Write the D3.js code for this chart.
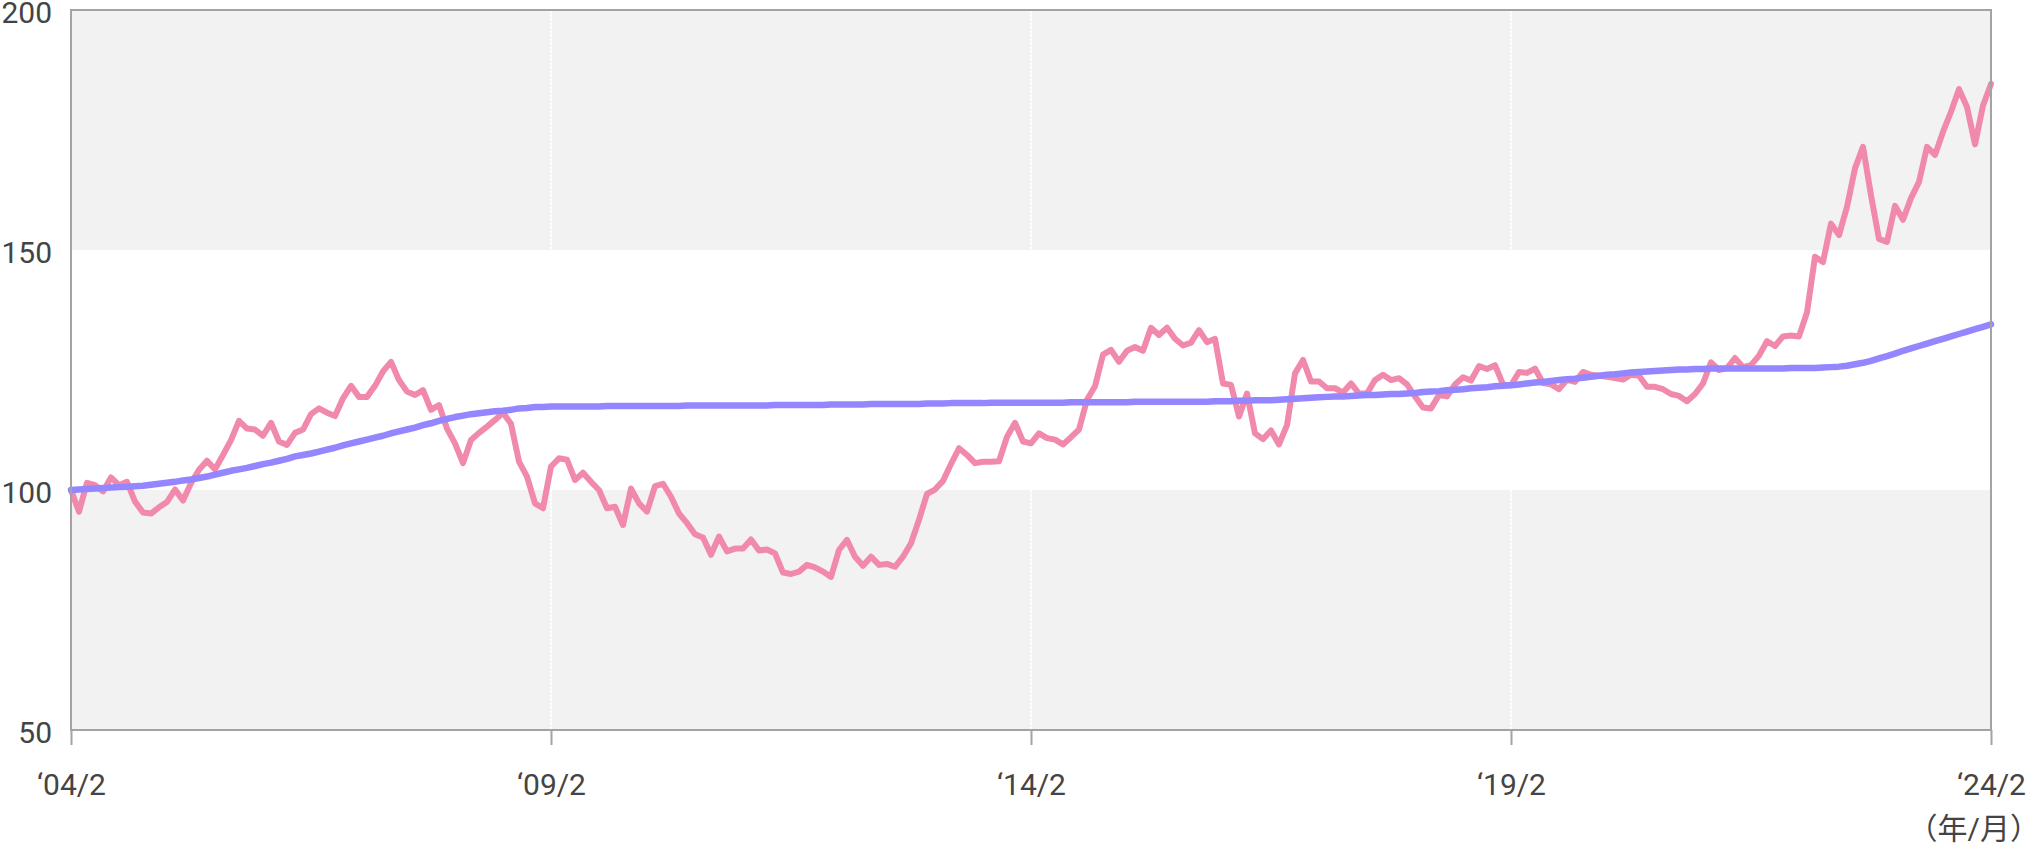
<!DOCTYPE html>
<html><head><meta charset="utf-8">
<script src="https://cdn.jsdelivr.net/npm/d3@7/dist/d3.min.js"></script>
<style>
html,body{margin:0;padding:0;background:#fff;}
svg{display:block;}
text{font-family:Roboto,"Noto Sans CJK JP",sans-serif;}
</style></head>
<body><svg id="c" width="2040" height="852"></svg>
<script>
// monthly, 2004/2 .. 2024/2 (241 points)
const tickIndex = [0, 60, 120, 180, 240];
const tickLabels = ["\u201804/2", "\u201809/2", "\u201814/2", "\u201819/2", "\u201824/2"];
const yTicks = [50, 100, 150, 200];
const unitLabel = "（年/月）";

const seriesPink = [
100.0,95.5,101.5,101.0,99.7,102.6,101.0,101.7,97.6,95.3,95.1,96.4,97.5,100.1,97.8,
101.4,104.2,106.1,104.3,107.3,110.4,114.4,112.8,112.6,111.3,114.0,110.1,109.4,111.9,112.6,
115.8,117.0,116.1,115.4,119.1,121.7,119.4,119.4,121.7,124.7,126.7,122.9,120.5,119.8,120.8,
116.7,117.7,112.8,109.7,105.6,110.4,111.9,113.2,114.6,116.1,113.8,105.9,102.8,97.2,96.2,
104.9,106.6,106.3,102.1,103.6,101.7,100.0,96.2,96.5,92.7,100.3,97.2,95.5,100.8,101.3,
98.6,95.1,93.1,90.8,90.1,86.5,90.3,87.2,87.8,87.8,89.7,87.4,87.6,86.8,82.8,
82.5,83.0,84.4,83.9,83.0,81.9,87.5,89.6,86.1,84.2,86.1,84.4,84.6,84.0,86.1,
88.9,93.8,99.2,100.1,101.9,105.4,108.7,107.3,105.6,105.9,105.9,106.0,111.1,114.0,110.1,
109.7,111.8,110.8,110.5,109.5,111.0,112.6,118.8,121.6,128.2,129.2,126.7,129.0,129.8,129.0,
133.8,132.3,133.8,131.5,130.1,130.7,133.3,130.8,131.5,122.2,121.9,115.3,120.1,111.8,110.6,
112.4,109.5,113.5,124.3,127.1,122.6,122.6,121.2,121.2,120.3,122.2,120.1,120.1,122.9,124.0,
122.9,123.3,122.0,119.5,117.2,117.0,119.8,119.5,122.0,123.5,122.8,125.8,125.2,126.0,122.0,
121.8,124.6,124.4,125.3,122.3,122.0,121.0,123.0,122.5,124.6,124.0,123.8,123.6,123.3,123.0,
124.0,123.8,121.5,121.5,121.0,120.0,119.6,118.5,120.0,122.2,126.6,125.0,125.4,127.5,125.6,
126.0,128.0,131.0,130.0,132.0,132.2,132.0,137.0,148.6,147.5,155.5,153.1,159.0,167.0,171.5,
161.4,152.3,151.7,159.2,156.3,160.8,164.2,171.5,169.8,174.6,178.8,183.5,179.8,172.0,180.1,184.6
];

const seriesPurple = [
100.0,100.1,100.2,100.3,100.4,100.5,100.6,100.7,100.8,100.9,101.1,101.3,101.5,101.7,102.0,
102.2,102.5,102.8,103.2,103.6,104.0,104.3,104.6,105.0,105.4,105.7,106.1,106.5,107.0,107.3,
107.6,108.0,108.4,108.8,109.3,109.7,110.1,110.5,110.9,111.3,111.8,112.2,112.6,113.0,113.5,
113.9,114.4,114.8,115.2,115.5,115.8,116.0,116.2,116.4,116.5,116.7,117.0,117.1,117.3,117.3,
117.4,117.4,117.4,117.4,117.4,117.4,117.4,117.5,117.5,117.5,117.5,117.5,117.5,117.5,117.5,
117.5,117.5,117.6,117.6,117.6,117.6,117.6,117.6,117.6,117.6,117.6,117.6,117.6,117.7,117.7,
117.7,117.7,117.7,117.7,117.7,117.8,117.8,117.8,117.8,117.8,117.9,117.9,117.9,117.9,117.9,
117.9,117.9,118.0,118.0,118.0,118.1,118.1,118.1,118.1,118.1,118.2,118.2,118.2,118.2,118.2,
118.2,118.2,118.2,118.2,118.2,118.3,118.3,118.3,118.3,118.3,118.3,118.3,118.3,118.4,118.4,
118.4,118.4,118.4,118.4,118.4,118.4,118.4,118.4,118.5,118.5,118.5,118.6,118.6,118.7,118.7,
118.7,118.8,118.9,119.0,119.1,119.2,119.3,119.4,119.5,119.5,119.6,119.7,119.8,119.8,119.9,
120.0,120.0,120.1,120.2,120.4,120.5,120.6,120.8,120.9,121.0,121.2,121.3,121.4,121.6,121.7,
121.8,122.0,122.2,122.4,122.5,122.7,122.9,123.1,123.2,123.4,123.6,123.8,124.0,124.1,124.3,
124.5,124.6,124.7,124.8,124.9,125.0,125.1,125.1,125.2,125.2,125.3,125.3,125.3,125.3,125.3,
125.3,125.3,125.3,125.3,125.3,125.4,125.4,125.4,125.4,125.5,125.6,125.7,125.9,126.2,126.5,
126.9,127.4,127.9,128.4,129.0,129.5,130.0,130.5,131.0,131.5,132.0,132.5,133.0,133.5,134.0,134.5
];

const svg = d3.select("#c");
const L = 71, R = 1991, T = 10, B = 730;
const x = d3.scaleLinear().domain([0, 240]).range([L, R]);
const y = d3.scaleLinear().domain([50, 200]).range([B, T]);

// background bands
const bands = [[50,100,"#f2f2f2"],[100,150,"#ffffff"],[150,200,"#f2f2f2"]];
svg.append("g").selectAll("rect").data(bands).join("rect")
  .attr("x", L).attr("width", R - L)
  .attr("y", d => y(d[1])).attr("height", d => y(d[0]) - y(d[1]))
  .attr("fill", d => d[2]);

// vertical white gridlines
svg.append("g").selectAll("line").data(tickIndex.slice(1, -1)).join("line")
  .attr("x1", d => x(d)).attr("x2", d => x(d))
  .attr("y1", T).attr("y2", B)
  .attr("stroke", "#ffffff").attr("stroke-width", 2)
  .attr("stroke-dasharray", "3,1");

// lines
const line = d3.line().x((d, i) => x(i)).y(d => y(d));
svg.append("path").datum(seriesPink).attr("d", line)
  .attr("fill", "none").attr("stroke", "#f089ab").attr("stroke-width", 6)
  .attr("stroke-linejoin", "round").attr("stroke-linecap", "round");
svg.append("path").datum(seriesPurple).attr("d", line)
  .attr("fill", "none").attr("stroke", "#9386ff").attr("stroke-width", 6.5)
  .attr("stroke-linejoin", "round").attr("stroke-linecap", "round");

// frame
const frame = svg.append("g").attr("stroke", "#a3a3a3").attr("stroke-width", 2).attr("fill", "none");
frame.append("rect").attr("x", L).attr("y", T).attr("width", R - L).attr("height", B - T);

// x axis
const xAxis = d3.axisBottom(x).tickValues(tickIndex)
  .tickFormat((d, i) => tickLabels[i]).tickSize(15).tickPadding(29);
const gx = svg.append("g").attr("transform", `translate(0,${B})`).call(xAxis);
gx.select(".domain").remove();
gx.selectAll(".tick line").attr("stroke", "#a3a3a3").attr("stroke-width", 2);
gx.selectAll(".tick text").attr("font-size", 30).attr("fill", "#444")
  .attr("font-family", "Roboto, sans-serif");

// y axis labels
const yAxis = d3.axisLeft(y).tickValues(yTicks).tickSize(0).tickPadding(19);
const gy = svg.append("g").attr("transform", `translate(${L},0)`).call(yAxis);
gy.select(".domain").remove();
gy.selectAll(".tick text").attr("font-size", 30).attr("fill", "#444")
  .attr("dy", "0.43em")
  .attr("font-family", "Roboto, sans-serif");

// unit label
svg.append("text").attr("x", 2040).attr("y", 839)
  .attr("text-anchor", "end").attr("font-size", 30).attr("fill", "#444")
  .attr("font-family", "'Noto Sans CJK JP', sans-serif")
  .text(unitLabel);
</script></body></html>
